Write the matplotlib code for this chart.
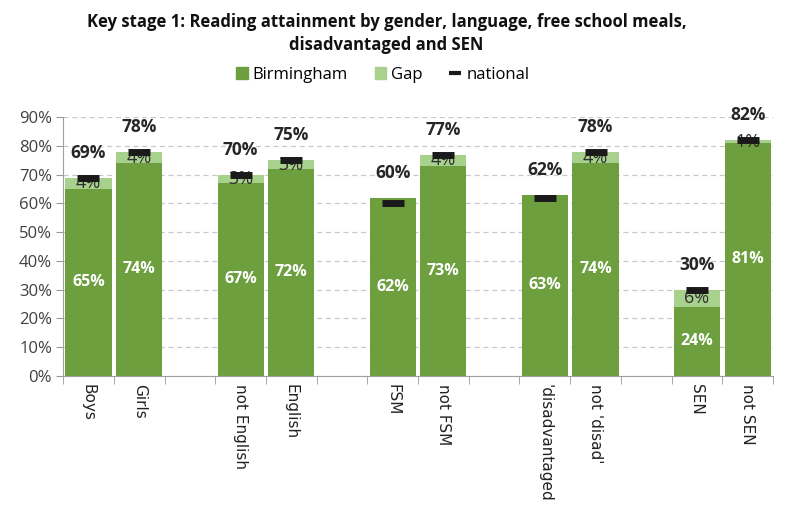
import numpy as np
import matplotlib.pyplot as plt
from matplotlib.patches import Patch
from matplotlib.lines import Line2D

plt.rcParams['font.family'] = ['Open Sans', 'DejaVu Sans']

categories = ['Boys', 'Girls', 'not English', 'English', 'FSM', 'not FSM',
              "'disadvantaged", "not 'disad'", 'SEN', 'not SEN']
birmingham = [65, 74, 67, 72, 62, 73, 63, 74, 24, 81]
gap = [4, 4, 3, 3, 0, 4, 0, 4, 6, 1]
national = [69, 78, 70, 75, 60, 77, 62, 78, 30, 82]

# pairs of bars with an empty slot between groups
slots = [0, 1, 3, 4, 6, 7, 9, 10, 12, 13]

green = '#6d9f3f'
light = '#a9d18e'

fig = plt.figure(figsize=(7.94, 5.09), dpi=100)
ax = fig.add_axes([0.0795, 0.262, 0.894, 0.5075])

x = np.array(slots, dtype=float)
b = np.array(birmingham) / 100
g = np.array(gap) / 100
n = np.array(national) / 100

ax.bar(x, b, width=0.91, color=green, zorder=2)
ax.bar(x, g, bottom=b, width=0.91, color=light, zorder=2)
ax.plot(x, n, ls='none', marker='_', ms=16, mew=5, color='#1a1a1a', zorder=6)

for xi, bi, gi, ni in zip(x, b, g, n):
    ax.text(xi, bi / 2, f'{bi*100:.0f}%', ha='center', va='center',
            color='white', fontsize=11.5, fontweight='bold', zorder=5)
    if gi > 0:
        ax.text(xi, bi + gi / 2, f'{gi*100:.0f}%', ha='center', va='center',
                color='#303030', fontsize=13, zorder=5)
    ax.annotate(f'{ni*100:.0f}%', (xi, max(ni, bi + gi)), xytext=(0, 18),
                textcoords='offset points', ha='center', va='center',
                fontsize=12.5, fontweight='bold', color='#262626', zorder=5)

ax.set_ylim(0, 0.9)
ax.set_xlim(-0.5, 13.5)
ax.set_yticks(np.arange(0, 0.91, 0.1))
ax.set_yticklabels([f'{v}%' for v in range(0, 91, 10)], fontsize=12, color='#404040')
ax.yaxis.grid(True, ls=(0, (4, 3)), color='#c8c8c8', lw=0.9, zorder=0)

ax.set_xticks(x)
ax.set_xticklabels(categories, rotation=270, fontsize=11, family='DejaVu Sans',
                   color='#222222', va='top')
ax.set_xticks(np.arange(-0.5, 14, 1), minor=True)
ax.tick_params(axis='x', which='major', length=0, pad=6)
ax.tick_params(axis='x', which='minor', length=6, color='#999999')
ax.tick_params(axis='y', length=5, color='#999999', pad=3)

for side in ['top', 'right']:
    ax.spines[side].set_visible(False)
for side in ['left', 'bottom']:
    ax.spines[side].set_color('#a0a0a0')

fig.text(0.487, 0.934, 'Key stage 1: Reading attainment by gender, language, free school meals,\ndisadvantaged and SEN',
         ha='center', va='center', fontsize=12, fontweight='bold', color='#111111',
         linespacing=1.35)

handles = [Patch(color=green, label='Birmingham'),
           Patch(color=light, label='Gap'),
           Line2D([], [], ls='none', marker='_', ms=9, mew=3, color='#1a1a1a', label='national')]
fig.legend(handles=handles, loc='center', bbox_to_anchor=(0.482, 0.853), ncol=3,
           frameon=False, fontsize=12, handlelength=0.7, handleheight=0.7,
           handletextpad=0.3, columnspacing=1.6)

fig.savefig('out.png', dpi=100)
